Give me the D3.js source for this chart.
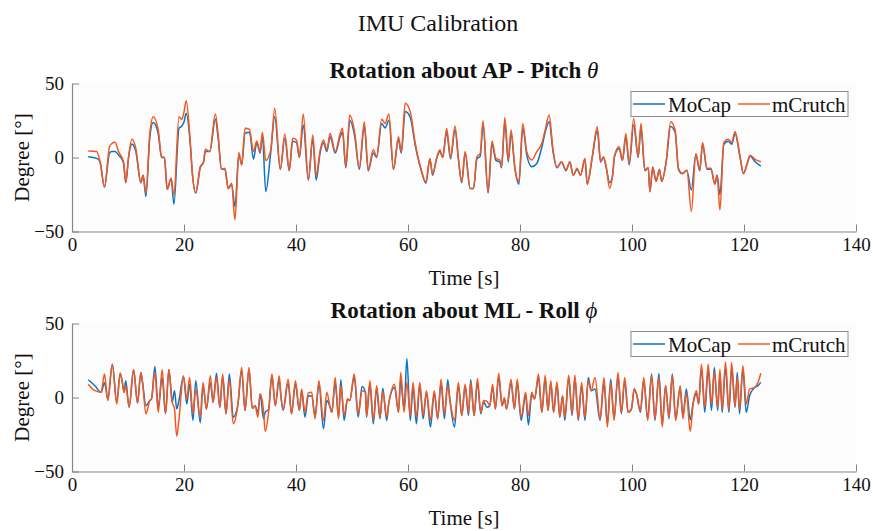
<!DOCTYPE html>
<html><head><meta charset="utf-8">
<script src="https://cdn.jsdelivr.net/npm/d3@7"></script>
<style>
body{margin:0;background:#fff;}
svg{display:block;font-family:"Liberation Serif","Times New Roman",serif;}
</style></head>
<body><svg id="chart" width="873" height="531"></svg>
<script>
// ---------- data ----------
const seriesNames = ["MoCap", "mCrutch"];
const xTicks = [0, 20, 40, 60, 80, 100, 120, 140];
const yTicks = [-50, 0, 50];

const pitchTime = [2.9,4.4,5.0,5.8,6.7,7.1,7.7,8.3,9.2,9.6,10.1,10.7,11.4,12.3,12.7,13.2,13.9,14.5,15.4,16.0,16.5,17.0,17.7,18.2,19.1,19.6,20.0,20.4,21.1,21.5,22.1,22.9,23.5,23.8,24.6,25.6,26.1,26.7,27.3,27.9,28.5,29.1,29.8,30.3,30.9,31.7,32.4,33.0,33.6,34.0,34.6,35.5,36.2,37.2,38.0,38.8,39.4,40.1,40.6,41.3,42.2,43.0,43.6,44.3,44.9,45.5,46.1,47.0,47.9,48.3,48.9,49.6,50.5,51.3,52.2,52.9,53.8,54.4,55.3,55.9,56.6,57.4,58.3,58.8,59.5,60.4,61.3,62.3,63.2,63.9,64.4,65.1,65.7,66.2,66.9,67.6,68.4,69.0,69.6,70.2,71.1,71.7,72.3,72.9,73.4,74.3,75.0,75.7,76.4,76.7,77.3,77.9,78.4,79.1,79.8,80.5,81.2,82.1,83.0,83.9,84.5,85.2,85.9,86.6,87.4,88.2,88.9,89.5,90.2,90.8,91.6,92.0,92.9,93.8,94.4,94.9,95.4,96.0,96.5,96.9,97.7,98.3,98.9,99.5,100.3,101.1,101.6,102.3,102.9,103.2,103.7,104.3,104.9,105.3,106.1,106.9,107.7,108.3,109.0,109.8,110.6,111.4,112.1,112.6,113.4,114.1,114.8,115.2,115.7,116.4,117.2,117.8,118.4,119.3,119.9,120.5,121.1,122.0,123.0];
const pitchMCrutch = [4.4,4.0,-2.8,-20,7.3,9.4,10.3,4,-3,-17,0.5,12.3,6.2,-17,-12,-24,16.3,27.6,18.6,0.5,0,-21.5,-14,-25.4,27.6,25.8,30.8,38.4,11.8,-11,-24,-6.2,-2.9,5.5,4,29.4,15.2,-8,-7.3,-20.9,-17.4,-42.2,3.3,-5,19.7,19,4,11.2,4,17,-2,5.2,33.3,-8.1,15.9,-8.4,13,11.8,0.5,29.4,-15.2,15.2,-12,4.6,11.8,5.2,16.3,4,16.3,19.7,-6.2,28.7,16.3,-7.3,24.2,-8.4,5.2,0.5,25.8,23,29.4,-8.1,14.1,4,36.6,31,9.6,-7.3,-16.5,-0.6,-11.2,-0.6,5.2,0,19.7,0,21.3,-0.6,-16.3,4,-20.9,-20.9,0.5,2.7,24.9,-23.1,11.2,-0.6,-1.7,-6.2,27.1,-1.7,18.6,-7.3,-16.3,23,4,-1.7,4,9.6,18.6,28.7,5.2,-6.7,-2.9,-8.4,-2.9,-12,-7.3,-12,-0.6,-17.9,0.5,20.8,-2.9,0.5,-6.2,-20.9,-13,1.6,7.3,-1.7,16.3,-4,26.4,0.5,23,-8.4,-7,-23.1,-6.2,-16.3,-8.4,-16.3,-2.9,24.2,18.6,-7.3,-10.7,-8.4,-36.6,2.7,-8.4,10.2,-7.3,-7.3,-18,-12,-35.5,10.2,12.3,10.2,17.5,0.5,-10.7,-5,1.6,-1.3,-2.9];
const pitchMoCap = [0.5,-0.6,-2.8,-20,3,4,4,1.7,-3.5,-17,0,9.1,4,-17,-12,-26.4,14,23.6,16,0,0,-21.5,-14,-31.6,19.7,21.3,24,29.9,10,-11,-24,-7,-3,4,4,25.8,13,-8,-8,-20.9,-18,-33.2,2,-5,16.3,17,-1.1,10,3,15,-23,4,27.6,-8,13,-9,11,10,0,22,-15.2,12,-15.2,3,10,4,14,3,14,17,-7,25,14,-8,21,-9,3,0,23,20,25,-8,12,3,31,27,8,-8,-17.4,-1,-12,-1,4,0,17,-1,19,-1,-17,3,-21,-21,-1,1,22,-24,9,-2,-3,-7,24,-3,16,-8,-18,20,2,-6.2,-4,7,17,24.2,4,-7,-3,-9,-3,-12,-8,-12,-1,-18,0,18,-3,0,-7,-17,-13,1,6,-2,14,-5,22,0,20,-9,-7,-23,-7,-16,-8,-16,-3,21,17,-8,-11,-9,-22,2,-9,9,-8,-8,-18,-12,-25,9,11,9,16,0,-11,-5,1,-2.9,-5.9];

const rollTime = [2.9,4.1,5.2,5.8,6.4,7.2,8.0,8.6,9.0,9.3,9.6,10.2,11.0,11.7,12.3,12.6,13.2,13.9,14.2,14.8,15.4,16.1,16.7,17.3,17.9,18.3,18.7,19.1,19.9,20.5,21.0,21.6,22.1,22.9,23.4,24.0,24.7,25.2,25.8,26.4,26.9,27.5,28.1,28.8,29.6,30.3,30.9,31.6,32.2,32.7,33.2,33.6,34.2,34.5,35.1,35.7,36.3,37.0,37.3,37.7,38.6,39.2,39.9,40.6,41.0,41.6,42.2,42.8,43.4,44.1,44.9,45.5,46.1,46.4,47.0,47.6,48.0,48.6,49.2,49.6,50.4,51.1,51.8,52.4,52.6,53.2,53.8,54.4,55.0,55.5,56.2,56.6,57.6,58.3,58.7,59.3,59.8,60.4,60.9,61.5,62.1,62.7,63.3,64.0,64.7,65.3,65.9,66.5,67.1,67.5,68.3,69.0,69.6,70.2,70.8,71.2,71.8,72.4,73.0,73.5,74.1,74.6,75.1,75.6,76.2,76.8,77.2,77.6,78.4,79.0,79.5,80.2,81.0,81.5,82.1,82.6,83.3,83.9,84.5,85.0,85.5,86.0,86.6,87.1,87.6,88.0,88.7,89.3,89.8,90.4,91.0,91.6,92.2,92.7,93.4,94.3,95.0,95.6,96.2,96.8,97.5,98.1,98.7,99.3,99.9,100.4,100.8,101.5,102.1,102.8,103.5,104.1,104.8,105.4,106.0,106.6,107.2,107.8,108.6,109.1,109.7,110.4,110.9,111.5,111.9,112.4,113.0,113.6,114.2,114.7,115.3,115.7,116.1,116.7,117.3,117.8,118.4,118.8,119.2,119.8,120.4,121.0,121.9,122.5,123.0];
const rollMCrutch = [9,4.6,3.5,15.8,-2.1,22.5,-4.4,16.4,10,3.5,7.9,-6.6,18.7,-3.7,16.9,10,-11,-2.1,-1,16.9,-10,19,-11,18.7,-3.2,-7.7,-26.1,-15,14.7,-1,13.5,-11,5.7,-13.3,10.2,-7.7,14.7,-3.2,13.5,-6.6,15.8,-11,12,-17.8,-5.5,20.2,-8.8,20.2,-7.3,-5.5,-13.3,2.3,-9,-22.9,-10,15.8,-5.5,14.7,1.2,-8,12.4,-11,11.3,-8.8,5.7,-10,3,3.5,-14.4,11.3,-15.5,3.5,-6.6,-10,13.5,-14.4,7.9,-12,-1,-2.1,15.8,-11,4.6,3.5,-12.2,11.3,-15.5,7.9,-13.3,4,-13,-3,9,-10,16.9,-10,10.2,-12.2,10.2,-13.3,10.2,-12,4.6,-15.5,4.6,-14.4,12.4,-11,7.9,-2.1,-15.5,10.2,-12.2,9,-10,10.2,-12.2,12.9,-10,-2.1,-2.6,-5.5,9,-7.7,16.4,-5.5,0,-7.7,12.4,-7.7,12.4,-13.3,3.5,-12.2,3.5,-1,15.8,-10,15.1,-8.8,11.3,-10,10.6,-13.3,1.2,-13.3,15.1,-11,15.1,-14.4,10.2,-13.3,11.3,4.6,13.5,-14.4,13.5,-20,10,-15.5,16.9,-10,13.5,-10,-7.7,5.7,2.3,-8.8,13.5,-15.5,14.7,-14.4,13.5,-20,7.9,-13,14.7,-15.5,7.9,-14.4,3,-22.9,-4.4,4.6,-4.4,22.5,-6.6,22.5,-4.4,17,-6.6,19.1,-8,24,-8,23.6,-5.5,13.5,-8,21.4,-4.4,5.7,6.8,10.2,16.4];
const rollMoCap = [12,7.9,3.5,10,-1,22.5,-3.2,16.4,10,3.5,11.3,-6.6,18.7,-3.7,16.9,10,-5.5,-2.1,-1,20.9,-6.6,13.5,-11,18.7,-3.2,4.6,-7.7,-2.1,14.2,-4.4,9,-15.5,11.3,-17.1,7.9,-7.7,10.2,-3.2,16.4,-6.6,14,-11,15.8,-13.3,-5.5,18,-8.8,19,-7.3,-5.5,-10,2.3,-14.4,-10,-8,14.7,-5.5,12.4,1.2,-8.8,10,-11,9,-8.8,4.6,-13.3,1.2,1,-12.2,9,-21.1,-2.1,-6.6,-10,10,-13.3,12,-15.5,-1,-2.1,14,-13.3,7.5,3.5,-13.3,9,-17.8,6,-14.4,6.2,-15.5,-3,7,-10,12,-8,26.3,-15.5,6.8,-17.8,8,-14.4,3.5,-20,3,-14.4,10,-14.4,12,-2.1,-20,8,-12.2,7.9,-12.2,12,-12.2,10,-11,-3,-6.6,-5.5,7,-7.7,14,-5.5,-1,-7.7,10,-7.7,10,-15.5,1.2,-18.5,2,-1,13.5,-10,13,-8.8,10,-10,9,-13.3,1.2,-15.5,13.5,-12.2,13.5,-15.5,8,-15.5,13.5,4.6,5.7,-15.5,10,-17.8,12.4,-14,14,-11,11.3,-10,-7.7,5.7,2.3,-10,11.3,-14.4,15.8,-15.5,16.2,-17.8,7.9,-14.4,15.8,-14.4,6,-12.2,5.7,-15,-4.4,3,-4.4,20,-10,19,-8.8,20.2,-8.8,16,-10,20,-10,20,-6.6,16.9,-11,19,-10,1.2,6.8,8,10.2];

const panels = [
  {title: "Rotation about AP - Pitch ", sym: "θ", time: pitchTime, mocap: pitchMoCap, mcrutch: pitchMCrutch, top: 83.5},
  {title: "Rotation about ML - Roll ", sym: "ϕ", time: rollTime, mocap: rollMoCap, mcrutch: rollMCrutch, top: 323.5}
];

// ---------- drawing ----------
const svg = d3.select("#chart");
const W = 873, H = 531;
const left = 72, right = 856, plotH = 148;
const colors = {MoCap: "#0b74c4", mCrutch: "#f5581f"};
const axisColor = "#858585";
const font = '"Liberation Serif","Times New Roman",serif';

svg.append("rect").attr("width", W).attr("height", H).attr("fill", "#fff");

svg.append("text").attr("x", 438).attr("y", 31).attr("text-anchor", "middle")
  .attr("font-size", 24).attr("fill", "#111").text("IMU Calibration");

panels.forEach(p => {
  const x = d3.scaleLinear().domain([0, 140]).range([left, right]);
  const y = d3.scaleLinear().domain([-50, 50]).range([p.top + plotH, p.top]);
  const g = svg.append("g");

  g.append("rect").attr("x", left).attr("y", p.top).attr("width", right - left).attr("height", plotH)
    .attr("fill", "#fcfcfc");

  const line = (vals) => d3.line().x((d, i) => x(p.time[i])).y(d => y(d)).curve(d3.curveMonotoneX)(vals);

  g.append("path").attr("d", line(p.mocap)).attr("fill", "none")
    .attr("stroke", colors.MoCap).attr("stroke-width", 1.5).attr("stroke-linejoin", "round");
  g.append("path").attr("d", line(p.mcrutch)).attr("fill", "none")
    .attr("stroke", colors.mCrutch).attr("stroke-width", 1.5).attr("stroke-linejoin", "round");

  const xa = g.append("g").attr("transform", `translate(0,${p.top + plotH})`)
    .call(d3.axisBottom(x).tickValues(xTicks).tickSizeInner(-7).tickSizeOuter(0).tickPadding(6));
  const ya = g.append("g").attr("transform", `translate(${left},0)`)
    .call(d3.axisLeft(y).tickValues(yTicks).tickSizeInner(-7).tickSizeOuter(0).tickPadding(8));
  [xa, ya].forEach(a => {
    a.select(".domain").attr("stroke", axisColor).attr("stroke-width", 1.2);
    a.selectAll(".tick line").attr("stroke", axisColor).attr("stroke-width", 1);
    a.selectAll("text").attr("font-family", font).attr("font-size", 19).attr("fill", "#111");
  });

  // subplot title
  const t = g.append("text").attr("x", (left + right) / 2).attr("y", p.top - 6)
    .attr("text-anchor", "middle").attr("font-size", 23).attr("font-weight", "bold").attr("fill", "#111");
  t.append("tspan").text(p.title);
  t.append("tspan").attr("font-style", "italic").attr("font-weight", "normal").text(p.sym);

  // axis labels
  g.append("text").attr("x", (left + right) / 2).attr("y", p.top + plotH + 53)
    .attr("text-anchor", "middle").attr("font-size", 21).attr("fill", "#111").text("Time [s]");
  g.append("text").attr("transform", `translate(29,${p.top + plotH / 2}) rotate(-90)`)
    .attr("text-anchor", "middle").attr("font-size", 21).attr("fill", "#111").text("Degree [°]");

  // legend
  const lg = g.append("g").attr("transform", `translate(631,${p.top + 8})`);
  lg.append("rect").attr("width", 217).attr("height", 25).attr("fill", "#fff")
    .attr("stroke", "#8a8a8a").attr("stroke-width", 1);
  const items = [{n: seriesNames[0], x0: 2, tx: 37}, {n: seriesNames[1], x0: 107, tx: 141}];
  items.forEach(it => {
    lg.append("line").attr("x1", it.x0).attr("x2", it.x0 + 32).attr("y1", 12.5).attr("y2", 12.5)
      .attr("stroke", colors[it.n]).attr("stroke-width", 1.5);
    lg.append("text").attr("x", it.tx).attr("y", 20).attr("font-size", 21).attr("fill", "#111").text(it.n);
  });
});
</script></body></html>
